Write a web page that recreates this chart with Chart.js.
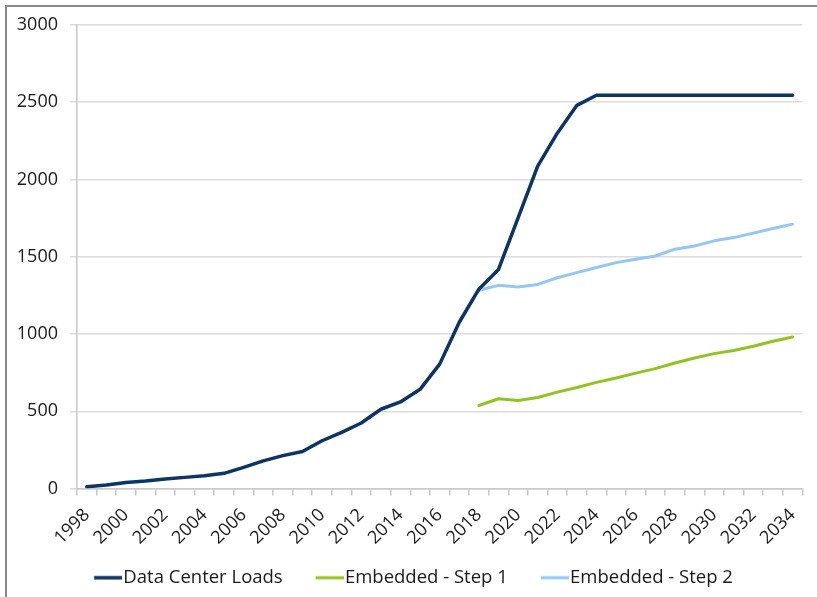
<!DOCTYPE html>
<html>
<head>
<meta charset="utf-8">
<script src="https://cdn.jsdelivr.net/npm/chart.js@4.4.1/dist/chart.umd.min.js"></script>
<style>
  html, body { margin: 0; padding: 0; background: #fff; }
  #wrap { position: relative; width: 817px; height: 597px; }
  #frame { position: absolute; left: 5px; top: 5px; right: 0; bottom: 0;
           border-top: 2px solid #8a8a8a; border-left: 2px solid #8a8a8a; pointer-events: none; }
  canvas { position: absolute; left: 0; top: 0; }
</style>
</head>
<body>
<div id="wrap">
  <canvas id="chart" width="817" height="597"></canvas>
  <div id="frame"></div>
</div>
<script>
const years = ['1998', '1999', '2000', '2001', '2002', '2003', '2004', '2005', '2006', '2007',
  '2008', '2009', '2010', '2011', '2012', '2013', '2014', '2015', '2016', '2017',
  '2018', '2019', '2020', '2021', '2022', '2023', '2024', '2025', '2026', '2027',
  '2028', '2029', '2030', '2031', '2032', '2033', '2034'];

const dataCenterLoads = [11, 22, 39, 48, 61, 72, 83, 98, 137, 179,
  213, 239, 309, 363, 424, 513, 560, 642, 805, 1076,
  1290, 1418, 1751, 2087, 2300, 2480, 2545, 2545, 2545, 2545,
  2545, 2545, 2545, 2545, 2545, 2545, 2545];

const embeddedStep1 = [null, null, null, null, null, null, null, null, null, null,
  null, null, null, null, null, null, null, null, null, null,
  537, 581, 570, 589, 624, 654, 687, 715, 747, 776,
  812, 845, 873, 893, 921, 953, 981];

const embeddedStep2 = [null, null, null, null, null, null, null, null, null, null,
  null, null, null, null, null, null, null, null, null, null,
  1283, 1315, 1304, 1321, 1364, 1397, 1430, 1462, 1484, 1505,
  1549, 1570, 1603, 1624, 1653, 1683, 1711];

const yTicks = [0, 500, 1000, 1500, 2000, 2500, 3000];

const FONT = "'Open Sans', sans-serif";
const TEXT = '#1a1a1a';

// legend swatch: the legend box is 40px wide and the label starts 9px after it;
// the icon is centred on the box, so the line is drawn in its right part to sit
// right up against the text, the blank left part gives the gap between items
function lineIcon(color, width) {
  const c = document.createElement('canvas');
  c.width = 56;
  c.height = 6;
  const g = c.getContext('2d');
  g.strokeStyle = color;
  g.lineWidth = width;
  g.beginPath();
  g.moveTo(28, 3);
  g.lineTo(56, 3);
  g.stroke();
  return c;
}

const ctx = document.getElementById('chart');
new Chart(ctx, {
  type: 'line',
  data: {
    labels: years,
    datasets: [
      { label: 'Data Center Loads', data: dataCenterLoads, borderColor: '#0c3467', backgroundColor: '#0c3467', borderWidth: 3.5, pointStyle: lineIcon('#0c3467', 3.5) },
      { label: 'Embedded - Step 1', data: embeddedStep1, borderColor: '#8fc51e', backgroundColor: '#8fc51e', borderWidth: 3, pointStyle: lineIcon('#8fc51e', 3) },
      { label: 'Embedded - Step 2', data: embeddedStep2, borderColor: '#94c6f7', backgroundColor: '#94c6f7', borderWidth: 3, pointStyle: lineIcon('#94c6f7', 3) }
    ]
  },
  options: {
    responsive: false,
    animation: false,
    layout: { padding: { top: 25, right: 14, left: 4, bottom: 0 } },
    elements: {
      point: { radius: 0, hoverRadius: 0 },
      line: { tension: 0, borderCapStyle: 'round', borderJoinStyle: 'round' }
    },
    plugins: {
      tooltip: { enabled: false },
      legend: {
        position: 'bottom',
        maxHeight: 44,
        labels: {
          usePointStyle: true,
          pointStyleWidth: 40,
          padding: 13,
          color: TEXT,
          font: { family: FONT, size: 18.5 }
        }
      }
    },
    scales: {
      x: {
        offset: true,
        grid: { offset: true, drawOnChartArea: false, drawTicks: true, tickLength: 7, color: '#c8c8c8', lineWidth: 1.5 },
        border: { color: '#c8c8c8', width: 1.5 },
        ticks: {
          autoSkip: false,
          minRotation: 45,
          maxRotation: 45,
          padding: 9,
          color: TEXT,
          font: { family: FONT, size: 18 },
          callback: function (val, i) { return i % 2 === 0 ? this.getLabelForValue(val) : ''; }
        },
        afterFit: (scale) => { scale.height = 67; }
      },
      y: {
        min: 0,
        max: 3000,
        afterBuildTicks: (scale) => { scale.ticks = yTicks.map(v => ({ value: v })); },
        grid: { color: '#dcdcdc', lineWidth: 1.5, tickLength: 7 },
        border: { color: '#c8c8c8', width: 1.5 },
        ticks: { padding: 12, color: TEXT, font: { family: FONT, size: 18 }, callback: (v) => String(v) },
        afterFit: (scale) => { scale.width = 73; }
      }
    }
  }
});
</script>
</body>
</html>
